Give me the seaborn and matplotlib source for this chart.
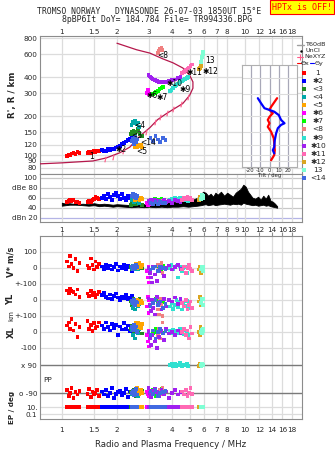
import numpy as np
import pandas as pd
import matplotlib
matplotlib.use("Agg")
import matplotlib.pyplot as plt
import seaborn as sns
from matplotlib.ticker import FixedLocator, FixedFormatter, NullLocator

sns.set_style("white")
plt.rcParams["font.family"] = ["DejaVu Sans"]

# frequency axis (MHz, log)
FREQ_LIM = (0.76, 20.5)
FREQ_TICKS = [1, 1.5, 2, 3, 4, 5, 6, 7, 8, 10, 12, 14, 16, 18]
FREQ_TICKS_DBE = [1, 1.5, 2, 3, 4, 5, 6, 7, 8, 9, 10, 12, 14, 16, 18]
HEIGHT_LIM = (72, 830)
HEIGHT_TICKS = [80, 90, 100, 120, 150, 200, 300, 400, 600, 800]

# echo groups
GROUP_NAMES = ["1", "✱2", "<3", "<4", "<5", "✱6", "✱7", "<8", "✱9", "✱10", "✱11", "✱12", "13", "<14"]
GROUP_COLORS = ["#ff0000", "#0000ff", "#228b22", "#00a8a8", "#ffa500", "#ff00ff", "#00ff00",
                "#f08080", "#30e0d0", "#a020f0", "#ff69b4", "#daa520", "#7fffd4", "#4169e1"]
LABEL_F = [1.45, 2.1, 2.57, 2.67, 2.74, 3.1, 3.52, 3.57, 4.72, 4.1, 5.3, 6.5, 6.45, 2.95]
LABEL_H = [98, 111, 141, 168, 107, 290, 280, 585, 322, 356, 435, 445, 540, 126]

# group 1
g1_freq = [1.07, 1.09, 1.11, 1.13, 1.16, 1.19, 1.22, 1.25, 1.38, 1.41, 1.44, 1.47, 1.50, 1.53, 1.56, 1.59]
g1_height = [98, 101, 100, 103, 104, 102, 105, 104, 104, 106, 103, 105, 107, 106, 108, 107]
g1_amp = [52, 54, 56, 53, 55, 52, 51, 50, 51, 54, 52, 56, 58, 62, 60, 57]
g1_vstar = [40, 10, 75, 25, 0, 55, -20, 30, 15, 0, 60, 20, -10, 40, 5, 25]
g1_yl = [60, 45, 70, 55, 50, 35, 65, 20, 40, 25, 55, 30, 45, 20, 35, 50]
g1_xl = [40, 60, 20, 80, 10, 50, -30, 30, 70, 20, 45, 5, 55, 25, 35, 60]
g1_pp = [-70, -110, -90, -60, -120, -85, -100, -75, -95, -65, -115, -80, -100, -90, -70, -110]
g1_ep = [9, 11, 10, 12, 9, 10, 11, 10, 9, 11, 10, 12, 10, 9, 11, 10]

# group *2
g2_freq = [1.66, 1.70, 1.74, 1.78, 1.83, 1.88, 1.93, 1.98, 2.03, 2.08, 2.13, 2.18, 2.24, 2.30, 2.36, 2.42, 2.50]
g2_height = [110, 107, 108, 111, 109, 112, 111, 114, 116, 118, 121, 124, 127, 130, 133, 137, 141]
g2_amp = [60, 64, 58, 68, 62, 55, 66, 70, 63, 58, 67, 60, 56, 64, 59, 62, 57]
g2_vstar = [10, -5, 20, 0, 15, -10, 5, 25, -15, 10, 0, 20, -5, 15, 5, -20, 10]
g2_yl = [30, 45, 20, 10, 35, 5, 25, 40, 15, 0, 20, 10, 30, 5, 15, 25, 0]
g2_xl = [40, 20, 60, 30, 10, 50, 25, 45, -20, 35, 15, 55, 20, 40, 5, 30, 10]
g2_pp = [-80, -100, -70, -110, -90, -60, -120, -95, -85, -75, -105, -90, -65, -115, -80, -100, -90]
g2_ep = [11, 9, 10, 12, 8, 10, 11, 9, 10, 12, 9, 11, 10, 8, 10, 12, 9]

# group <3
g3_freq = [2.38, 2.42, 2.46, 2.50, 2.55, 2.60, 2.66, 2.74]
g3_height = [145, 150, 155, 148, 152, 158, 146, 140]
g3_amp = [46, 50, 48, 52, 47, 49, 51, 45]
g3_vstar = [5, -10, 15, 0, 20, -5, 10, 0]
g3_yl = [-10, -30, 5, -20, 0, -40, 10, -15]
g3_xl = [20, 40, 0, 30, 50, 10, 25, -10]
g3_pp = [-85, -100, -70, -95, -110, -80, -90, -75]
g3_ep = [10, 9, 11, 10, 12, 9, 10, 11]

# group <4
g4_freq = [2.40, 2.44, 2.48, 2.52, 2.56, 2.60, 2.65]
g4_height = [170, 180, 175, 185, 172, 178, 165]
g4_amp = [55, 58, 52, 60, 54, 57, 50]
g4_vstar = [0, 15, -10, 5, 20, -5, 10]
g4_yl = [-20, -50, -35, -60, -10, -40, -25]
g4_xl = [10, -20, 30, -40, 5, -10, 20]
g4_pp = [-95, -80, -105, -90, -70, -110, -85]
g4_ep = [10, 11, 9, 10, 12, 10, 9]

# group <5
g5_freq = [2.50, 2.54, 2.58, 2.62, 2.66, 2.70, 2.74]
g5_height = [116, 118, 115, 120, 117, 119, 114]
g5_amp = [56, 60, 62, 58, 55, 60, 57]
g5_vstar = [10, 25, 0, 15, 30, 5, 20]
g5_yl = [-10, -25, 0, -35, -15, -5, -20]
g5_xl = [40, 55, 30, 60, 45, 25, 50]
g5_pp = [-75, -95, -60, -85, -100, -70, -90]
g5_ep = [9, 10, 11, 10, 9, 12, 10]

# group *6
g6_freq = [2.92, 2.95, 2.98, 3.00]
g6_height = [300, 316, 308, 296]
g6_amp = [50, 46, 52, 48]
g6_vstar = [-20, -60, 10, -90]
g6_yl = [-40, 20, -80, 0]
g6_xl = [-20, -60, 10, -90]
g6_pp = [-80, -100, -60, -110]
g6_ep = [10, 11, 9, 10]

# group *7
g7_freq = [3.15, 3.22, 3.28, 3.34, 3.42, 3.50, 3.56]
g7_height = [296, 300, 306, 314, 322, 330, 336]
g7_amp = [55, 58, 54, 56, 52, 57, 55]
g7_vstar = [0, -40, 10, -20, 5, -10, 15]
g7_yl = [-5, 0, 10, -10, 5, 0, -15]
g7_xl = [-10, 0, 20, -30, 10, 5, -5]
g7_pp = [-70, -90, -110, -80, -95, -65, -100]
g7_ep = [10, 9, 11, 10, 12, 10, 9]

# group <8
g8_freq = [3.34, 3.40, 3.45, 3.50, 3.55]
g8_height = [612, 640, 655, 668, 650]
g8_amp = [52, 49, 54, 50, 53]
g8_vstar = [20, -10, 0, 30, -30]
g8_yl = [-60, -90, 10, -30, -100]
g8_xl = [-20, 20, -40, 0, 60]
g8_pp = [-85, -105, -70, -95, -60]
g8_ep = [10, 11, 9, 12, 10]

# group *9
g9_freq = [3.90, 3.98, 4.06, 4.15, 4.23, 4.32, 4.42, 4.52, 4.62, 4.72, 4.82, 4.90]
g9_height = [312, 318, 330, 340, 348, 356, 365, 372, 380, 388, 395, 402]
g9_amp = [56, 58, 55, 60, 57, 54, 59, 56, 58, 55, 57, 54]
g9_vstar = [0, 20, -10, 5, 15, -60, 10, -20, 0, 5, -30, 10]
g9_yl = [-40, -20, -55, -30, 0, -45, -10, -60, -25, -35, -5, -50]
g9_xl = [10, -5, 15, 0, 5, -10, 20, 0, -15, 10, 5, -20]
g9_pp = [90, 100, 80, 95, 85, 90, 105, 82, 92, 88, 98, 84]
g9_ep = [10, 9, 11, 10, 12, 9, 10, 11, 10, 9, 12, 10]

# group *10
g10_freq = [2.98, 3.02, 3.06, 3.10, 3.15, 3.22, 3.30, 3.40, 3.50, 3.60, 3.72, 3.85, 4.00, 4.15, 4.30, 4.45]
g10_height = [414, 405, 396, 390, 384, 378, 372, 368, 366, 366, 368, 372, 378, 384, 392, 400]
g10_amp = [54, 50, 56, 52, 48, 55, 51, 53, 49, 56, 52, 54, 50, 55, 53, 51]
g10_vstar = [0, -30, -60, -90, 10, -40, -80, -20, 5, -50, 0, 15, -10, 5, 20, -5]
g10_yl = [10, -30, -70, 0, -50, -90, 20, -20, -60, 5, -40, 0, -10, 15, -25, 5]
g10_xl = [0, -40, -80, -20, 10, -60, -100, -30, 5, -50, 20, -10, 0, -20, 10, -5]
g10_pp = [-60, -90, -115, -75, -100, -65, -85, -110, -70, -95, -80, -120, -90, -70, -100, -85]
g10_ep = [10, 11, 9, 10, 12, 10, 9, 11, 10, 12, 9, 10, 11, 10, 9, 10]

# group *11
g11_freq = [4.55, 4.65, 4.75, 4.85, 4.95, 5.05, 5.12]
g11_height = [430, 440, 452, 462, 474, 488, 500]
g11_amp = [56, 60, 58, 62, 57, 59, 55]
g11_vstar = [-10, 10, -30, 0, 20, -5, -20]
g11_yl = [-20, -40, 0, -60, -30, -10, -50]
g11_xl = [0, 20, -20, 10, -40, 30, -10]
g11_pp = [-80, -100, -70, -110, -90, -60, -95]
g11_ep = [10, 9, 11, 10, 12, 10, 9]

# group *12
g12_freq = [5.62, 5.68, 5.72, 5.76]
g12_height = [462, 472, 480, 488]
g12_amp = [56, 62, 60, 58]
g12_vstar = [-10, 10, 0, -30]
g12_yl = [-10, 20, -30, 10]
g12_xl = [0, -20, 30, 10]
g12_pp = [85, 95, 100, 80]
g12_ep = [10, 11, 9, 10]

# group 13
g13_freq = [5.76, 5.80, 5.84, 5.88, 5.92]
g13_height = [520, 545, 570, 600, 630]
g13_amp = [58, 62, 66, 60, 64]
g13_vstar = [-10, 0, 10, -20, 5]
g13_yl = [-20, 0, 10, -30, 5]
g13_xl = [0, 15, -10, 20, 5]
g13_pp = [90, 85, 95, 88, 92]
g13_ep = [10, 9, 11, 10, 10]

# group <14
g14_freq = [2.42, 2.45, 2.48, 2.51, 2.54, 2.57, 3.05, 3.15, 3.25, 3.35, 3.45, 3.58, 3.68]
g14_height = [128, 134, 122, 138, 126, 132, 135, 128, 140, 132, 126, 135, 130]
g14_amp = [64, 68, 62, 66, 60, 63, 50, 48, 52, 47, 51, 49, 50]
g14_vstar = [10, -5, 15, 0, 20, 5, -10, 0, 10, -20, 5, 0, -5]
g14_yl = [-5, -20, 0, -30, -10, -15, -40, -20, 0, -30, -10, -50, -25]
g14_xl = [30, 10, 45, 20, 35, 0, -20, 10, -40, 0, 20, -10, 5]
g14_pp = [-90, -75, -105, -85, -65, -100, -80, -95, -70, -110, -90, -85, -75]
g14_ep = [10, 11, 9, 10, 12, 10, 9, 11, 10, 9, 12, 10, 11]

# model profile and NeXYZ points
MODEL_F = [0.76, 1.0, 1.48, 1.75, 2.07, 2.35, 2.67, 3.03, 3.34, 3.73, 4.14, 4.58, 4.99, 5.2, 5.2,
           4.99, 4.58, 4.05, 3.56, 3.03, 2.56, 2.0]
MODEL_H = [85.5, 87, 90, 95, 104, 115, 140, 163, 188, 209, 229, 250, 289, 328, 367,
           413, 470, 515, 553, 612, 650, 730]
NE_F = [1.72, 1.91, 2.16, 2.9, 3.22, 3.43, 3.73, 4.06, 4.5, 4.9]
NE_H = [94, 97, 107, 150, 180, 196, 212, 228, 246, 280]

# tilt inset
TILT_X_H = [278, 238, 225, 212, 199, 188, 177, 166, 152, 135, 123, 109, 100, 91]
TILT_X = [8, 1.7, 0, 3.5, 0, -1.8, 0, -1.8, 1.7, 4.5, 5, 5.6, 5, 1.7]
TILT_Y_H = [278, 253, 232, 225, 218, 205, 188, 177, 172, 162, 148, 131, 116, 109, 103]
TILT_Y = [-12.3, -8.8, -5.3, 0, 5, 9.8, 12.2, 15.8, 12.2, 8.8, 7, 5.6, 5, 3.5, 5]

# receiver noise band (dB)
NOISE_F = [1.00, 1.05, 1.10, 1.20, 1.30, 1.40, 1.50, 1.60, 1.70, 1.80,
           1.90, 2.00, 2.20, 2.40, 2.60, 2.80, 3.00, 3.25, 3.50, 3.75,
           4.00, 4.30, 4.60, 4.90, 5.20, 5.50, 5.75, 5.90, 6.10, 6.30,
           6.50, 6.70, 6.90, 7.10, 7.40, 7.70, 8.00, 8.30, 8.60, 8.90,
           9.20, 9.50, 9.80, 10.1, 10.4, 10.7, 11.0, 11.4, 11.8, 12.2,
           12.6, 13.0, 13.4, 13.8, 14.2, 14.6, 15.0]
NOISE_LO = [44, 45, 46, 46, 45, 44, 45, 43, 44, 43, 42, 43, 42, 41, 42, 41, 42, 41, 42, 41,
            42, 42, 43, 42, 43, 44, 45, 46, 47, 45, 46, 47, 45, 46, 47, 48, 47, 46, 48, 47,
            48, 46, 50, 48, 47, 46, 45, 46, 44, 45, 46, 44, 45, 43, 42, 41, 40]
NOISE_HI = [50, 48, 49, 47, 48, 47, 49, 47, 48, 47, 46, 47, 46, 45, 46, 47, 48, 50, 49, 51,
            52, 50, 53, 55, 56, 60, 66, 72, 70, 64, 68, 62, 70, 66, 72, 64, 70, 66, 62, 70,
            74, 78, 86, 82, 72, 66, 60, 58, 62, 56, 64, 58, 66, 54, 52, 48, 43]

# bottom panel row offsets
V_ZERO, YL_ZERO, XL_ZERO = 943.75, 743.75, 543.75
PP_MID, PP_SCALE = 250.0, 175.0 / 180.0
EP_ONE, EP_SCALE = 53.1, 21.875

# ---- assemble table ----
groups = [
    (g1_freq, g1_height, g1_amp, g1_vstar, g1_yl, g1_xl, g1_pp, g1_ep),
    (g2_freq, g2_height, g2_amp, g2_vstar, g2_yl, g2_xl, g2_pp, g2_ep),
    (g3_freq, g3_height, g3_amp, g3_vstar, g3_yl, g3_xl, g3_pp, g3_ep),
    (g4_freq, g4_height, g4_amp, g4_vstar, g4_yl, g4_xl, g4_pp, g4_ep),
    (g5_freq, g5_height, g5_amp, g5_vstar, g5_yl, g5_xl, g5_pp, g5_ep),
    (g6_freq, g6_height, g6_amp, g6_vstar, g6_yl, g6_xl, g6_pp, g6_ep),
    (g7_freq, g7_height, g7_amp, g7_vstar, g7_yl, g7_xl, g7_pp, g7_ep),
    (g8_freq, g8_height, g8_amp, g8_vstar, g8_yl, g8_xl, g8_pp, g8_ep),
    (g9_freq, g9_height, g9_amp, g9_vstar, g9_yl, g9_xl, g9_pp, g9_ep),
    (g10_freq, g10_height, g10_amp, g10_vstar, g10_yl, g10_xl, g10_pp, g10_ep),
    (g11_freq, g11_height, g11_amp, g11_vstar, g11_yl, g11_xl, g11_pp, g11_ep),
    (g12_freq, g12_height, g12_amp, g12_vstar, g12_yl, g12_xl, g12_pp, g12_ep),
    (g13_freq, g13_height, g13_amp, g13_vstar, g13_yl, g13_xl, g13_pp, g13_ep),
    (g14_freq, g14_height, g14_amp, g14_vstar, g14_yl, g14_xl, g14_pp, g14_ep),
]
frames = []
for name, cols in zip(GROUP_NAMES, groups):
    frames.append(pd.DataFrame({"group": name, "freq": cols[0], "height": cols[1], "amp": cols[2],
                                "vstar": cols[3], "yl": cols[4], "xl": cols[5], "pp": cols[6], "ep": cols[7]}))
df = pd.concat(frames, ignore_index=True)
palette = dict(zip(GROUP_NAMES, GROUP_COLORS))

rows = [df.assign(ypos=df["vstar"] + V_ZERO), df.assign(ypos=df["yl"] + YL_ZERO),
        df.assign(ypos=df["xl"] + XL_ZERO), df.assign(ypos=PP_MID + df["pp"] * PP_SCALE),
        df.assign(ypos=EP_ONE + EP_SCALE * np.log10(df["ep"]))]
bot = pd.concat(rows, ignore_index=True)

# ---- figure ----
W, H = 335, 451
fig = plt.figure(figsize=(W / 100, H / 100), dpi=100)


def box(x0, y0, x1, y1):
    return [x0 / W, 1 - y1 / H, (x1 - x0) / W, (y1 - y0) / H]


ax_main = fig.add_axes(box(40, 36, 302, 173.5))
ax_dbe = fig.add_axes(box(40, 174, 302, 221.7))
ax_bot = fig.add_axes(box(40, 236, 302, 419))

GRID = "#dcdcdc"
SPINE = "#8c8c8c"
TICK_FS = 5.2


def freq_axis(ax, ticks, labels_on):
    ax.set_xscale("log")
    ax.set_xlim(FREQ_LIM)
    ax.xaxis.set_major_locator(FixedLocator(ticks))
    ax.xaxis.set_major_formatter(FixedFormatter([f"{t:g}" for t in ticks]))
    ax.xaxis.set_minor_locator(NullLocator())
    ax.grid(True, axis="x", color=GRID, lw=0.9)
    for s in ax.spines.values():
        s.set_color(SPINE)
        s.set_linewidth(0.8)
    ax.tick_params(axis="x", length=3, color=SPINE, labelsize=TICK_FS, pad=1.5,
                   labelbottom=labels_on)
    ax.tick_params(axis="y", length=0, labelsize=TICK_FS, pad=2)


# main ionogram
freq_axis(ax_main, FREQ_TICKS, False)
ax_main.xaxis.set_ticks_position("top")
ax_main.tick_params(axis="x", labeltop=True, labelbottom=False, length=0, pad=0.8)
ax_main.set_yscale("log")
ax_main.set_ylim(HEIGHT_LIM)
ax_main.yaxis.set_major_locator(FixedLocator(HEIGHT_TICKS))
ax_main.yaxis.set_major_formatter(FixedFormatter([str(h) for h in HEIGHT_TICKS]))
ax_main.yaxis.set_minor_locator(NullLocator())
ax_main.grid(True, axis="y", color=GRID, lw=0.9)
ax_main.plot(MODEL_F, MODEL_H, color="#b5174b", lw=0.9, zorder=3)
ax_main.scatter(NE_F, NE_H, marker="$I$", color="#ff5c8a", s=14, lw=0.3, zorder=4)
sns.scatterplot(data=df, x="freq", y="height", hue="group", palette=palette, hue_order=GROUP_NAMES,
                marker="s", s=7, linewidth=0, legend=False, ax=ax_main, zorder=5)
for name, lf, lh in zip(GROUP_NAMES, LABEL_F, LABEL_H):
    ax_main.text(lf, lh, name, fontsize=5.5, ha="center", va="center", color="black", zorder=6)
ax_main.set_xlabel("")
ax_main.set_ylabel("")

# tilt inset
ax_tilt = fig.add_axes(box(242, 65, 297, 167))
ax_tilt.set_facecolor("white")
ax_tilt.set_xlim(-29, 29)
ax_tilt.set_yscale("log")
ax_tilt.set_ylim(80.6, 505)
ax_tilt.set_xticks([-20, -10, 0, 10, 20])
ax_tilt.set_xticklabels(["-20", "-10", "0", "10", "20"])
ax_tilt.yaxis.set_major_locator(FixedLocator(HEIGHT_TICKS))
ax_tilt.yaxis.set_minor_locator(NullLocator())
ax_tilt.set_yticklabels([])
ax_tilt.grid(True, axis="x", color="#a8a8b8", lw=0.9)
ax_tilt.grid(True, axis="y", color=GRID, lw=0.8)
ax_tilt.tick_params(length=0, labelsize=3.8, pad=0.5)
for s in ax_tilt.spines.values():
    s.set_color("#b0b0b0")
    s.set_linewidth(0.8)
ax_tilt.plot(TILT_X, TILT_X_H, color="#ff0000", lw=1.6)
ax_tilt.plot(TILT_Y, TILT_Y_H, color="#0000ff", lw=1.6)
ax_tilt.set_xlabel("Tilt / deg", fontsize=3.8, labelpad=0)

# amplitude panel
freq_axis(ax_dbe, FREQ_TICKS_DBE, True)
ax_dbe.tick_params(axis="x", length=0, pad=4)
ax_dbe.set_ylim(12, 107.4)
ax_dbe.set_yticks([20, 40, 60, 80, 100])
ax_dbe.set_yticklabels(["dBn 20", "40", "60", "dBe 80", "100"])
for lvl in [40, 60, 80, 100]:
    ax_dbe.axhline(lvl, color="#c8c8c8", lw=0.9, zorder=0)
ax_dbe.axhline(20, color="#b4b4e6", lw=0.9, zorder=0)
ax_dbe.fill_between(NOISE_F, NOISE_LO, NOISE_HI, color="black", lw=0.6, zorder=2)
sns.scatterplot(data=df, x="freq", y="amp", hue="group", palette=palette, hue_order=GROUP_NAMES,
                marker="s", s=7, linewidth=0, legend=False, ax=ax_dbe, zorder=3)
ax_dbe.set_xlabel("")
ax_dbe.set_ylabel("")

# velocity / polarisation panel
freq_axis(ax_bot, FREQ_TICKS, True)
ax_bot.tick_params(axis="x", top=True, pad=3)
ax_bot.set_ylim(0, 1143.75)
pp_x = PP_MID + 90 * PP_SCALE
pp_o = PP_MID - 90 * PP_SCALE
ep10 = EP_ONE + EP_SCALE * np.log10(10)
ep01 = EP_ONE + EP_SCALE * np.log10(0.1)
bot_ticks = [V_ZERO + 100, V_ZERO, V_ZERO - 100, YL_ZERO, YL_ZERO - 100, XL_ZERO, XL_ZERO - 100,
             pp_x, pp_o, ep10, ep01]
bot_labels = ["100", "0", "+-100", "0", "+-100", "0", "-100", "x 90", "o -90", "10.", "0.1"]
ax_bot.set_yticks(bot_ticks)
ax_bot.set_yticklabels(bot_labels)
for t in bot_ticks[:7] + [ep10, ep01]:
    ax_bot.axhline(t, color=GRID, lw=0.9, zorder=0)
ax_bot.axhline(pp_x, color="#7a7a7a", lw=1.0, zorder=1)
ax_bot.axhline(pp_o, color="#7a7a7a", lw=1.0, zorder=1)
sns.scatterplot(data=bot, x="freq", y="ypos", hue="group", palette=palette, hue_order=GROUP_NAMES,
                marker="s", s=7, linewidth=0, legend=False, ax=ax_bot, zorder=3)
ax_bot.set_xlabel("Radio and Plasma Frequency / MHz", fontsize=6.2, labelpad=5)
ax_bot.set_ylabel("")

# side labels
fig.text(13 / W, 1 - 95 / H, "R', R / km", rotation=90, ha="center", va="center", fontsize=6.2, weight="bold")
fig.text(11 / W, 1 - 262 / H, "V* m/s", rotation=90, ha="center", va="center", fontsize=6, weight="bold")
fig.text(11 / W, 1 - 299 / H, "YL", rotation=90, ha="center", va="center", fontsize=6, weight="bold")
fig.text(11 / W, 1 - 316 / H, "km", rotation=90, ha="center", va="center", fontsize=5)
fig.text(11 / W, 1 - 332 / H, "XL", rotation=90, ha="center", va="center", fontsize=6, weight="bold")
fig.text(43 / W, 1 - 380 / H, "PP", ha="left", va="center", fontsize=5.2)
fig.text(12 / W, 1 - 407 / H, "EP / deg", rotation=90, ha="center", va="center", fontsize=5.2, weight="bold")

# titles
fig.text(149 / W, 1 - 12 / H, "TROMSO NORWAY   DYNASONDE 26-07-03 1850UT 15°E",
         family="DejaVu Sans Mono", fontsize=5.9, ha="center", va="center")
fig.text(157 / W, 1 - 20 / H, "8pBP6It DoY= 184.784 File= TR994336.BPG",
         family="DejaVu Sans Mono", fontsize=5.9, ha="center", va="center")
fig.text(302 / W, 1 - 7 / H, "HPTx is OFF!", family="DejaVu Sans Mono", fontsize=6, color="red",
         ha="center", va="center",
         bbox=dict(boxstyle="square,pad=0.25", facecolor="yellow", edgecolor="red", lw=0.8))

# legend column
ax_leg = fig.add_axes(box(296, 36, 335, 190))
ax_leg.set_xlim(296, 335)
ax_leg.set_ylim(190, 36)
ax_leg.axis("off")
LFS = 4.6
ax_leg.plot([297, 304], [45, 45], color="#a0a0a0", lw=1)
ax_leg.text(305, 45, "T60dB", fontsize=LFS, va="center")
ax_leg.plot([301], [51], marker=".", color="black", ms=1.5)
ax_leg.text(305, 51, "UnCl", fontsize=LFS, va="center")
ax_leg.plot([300], [57], marker="+", color="#ff5c8a", ms=4, mew=0.8)
ax_leg.plot([297, 303], [57, 57], color="#ff5c8a", lw=0.6)
ax_leg.text(304, 57, "NeXYZ", fontsize=LFS, va="center")
ax_leg.plot([297, 300.5], [63.3, 63.3], color="#ff0000", lw=0.8)
ax_leg.text(301, 63.3, "Θx", fontsize=LFS, va="center")
ax_leg.plot([310, 314], [63.3, 63.3], color="#0000ff", lw=0.8)
ax_leg.text(314.5, 63.3, "Θy", fontsize=LFS, va="center")
for i, (name, col) in enumerate(zip(GROUP_NAMES, GROUP_COLORS)):
    yy = 72.7 + i * 8.1
    ax_leg.plot([304], [yy], marker="s", color=col, ms=2.6, mew=0)
    ax_leg.text(318, yy, name, fontsize=5.4, ha="center", va="center")

fig.savefig("out.png", dpi=100, facecolor="white")
